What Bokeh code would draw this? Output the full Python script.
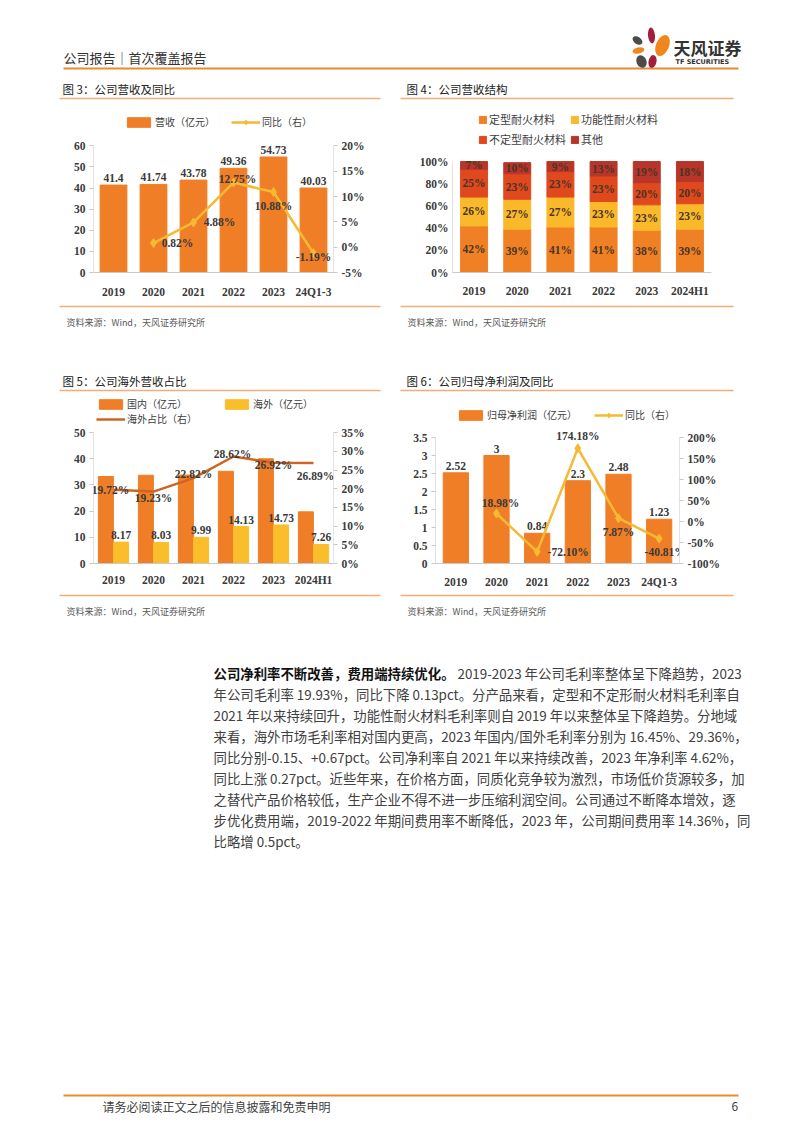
from bokeh.plotting import figure
from bokeh.layouts import column, row
from bokeh.models import (ColumnDataSource, Range1d, FactorRange, LinearAxis, FixedTicker,
                          NumeralTickFormatter, Legend, LegendItem, CustomJSTickFormatter)
from bokeh.core.properties import value
from bokeh.transform import dodge
from bokeh.embed import file_html
from bokeh.resources import INLINE

# ---------------- data ----------------
rev_years = ["2019", "2020", "2021", "2022", "2023", "24Q1-3"]
revenue = [41.4, 41.74, 43.78, 49.36, 54.73, 40.03]
rev_yoy_years = ["2020", "2021", "2022", "2023", "24Q1-3"]
rev_yoy = [0.82, 4.88, 12.75, 10.88, -1.19]

mix_years = ["2019", "2020", "2021", "2022", "2023", "2024H1"]
mix_names = ["定型耐火材料", "功能性耐火材料", "不定型耐火材料", "其他"]
mix_shaped = [42, 39, 41, 41, 38, 39]
mix_functional = [26, 27, 27, 23, 23, 23]
mix_unshaped = [25, 23, 23, 23, 20, 20]
mix_other = [7, 10, 9, 13, 19, 18]

geo_years = ["2019", "2020", "2021", "2022", "2023", "2024H1"]
domestic = [33.23, 33.71, 33.79, 35.23, 40.00, 19.74]
overseas = [8.17, 8.03, 9.99, 14.13, 14.73, 7.26]
overseas_share = [19.72, 19.23, 22.82, 28.62, 26.92, 26.89]

np_years = ["2019", "2020", "2021", "2022", "2023", "24Q1-3"]
net_profit = [2.52, 3, 0.84, 2.3, 2.48, 1.23]
np_yoy_years = ["2020", "2021", "2022", "2023", "24Q1-3"]
np_yoy = [18.98, -72.10, 174.18, 7.87, -40.81]

body_lead_bold = "公司净利率不断改善，费用端持续优化。"
body_lead_rest = "2019-2023 年公司毛利率整体呈下降趋势，2023"
body_lines = [
    "年公司毛利率 19.93%，同比下降 0.13pct。分产品来看，定型和不定形耐火材料毛利率自",
    "2021 年以来持续回升，功能性耐火材料毛利率则自 2019 年以来整体呈下降趋势。分地域",
    "来看，海外市场毛利率相对国内更高，2023 年国内/国外毛利率分别为 16.45%、29.36%，",
    "同比分别-0.15、+0.67pct。公司净利率自 2021 年以来持续改善，2023 年净利率 4.62%，",
    "同比上涨 0.27pct。近些年来，在价格方面，同质化竞争较为激烈，市场低价货源较多，加",
    "之替代产品价格较低，生产企业不得不进一步压缩利润空间。公司通过不断降本增效，逐",
    "步优化费用端，2019-2022 年期间费用率不断降低，2023 年，公司期间费用率 14.36%，同",
    "比略增 0.5pct。",
]

# ---------------- styles ----------------
SERIF = "Liberation Serif"
CJK = "Noto Sans CJK SC"
ORANGE = "#EF7E26"
YELLOW = "#F6B933"
GOLD = "#FBBE2B"
BROWN = "#CF6420"
MIX_COLORS = ["#F08024", "#F9B92A", "#E0481E", "#B8352A"]
LBL = "#3A3A3A"
AXC = "#C8C8C8"
TITLE_LINE = "#F2AE78"
PAGE_W = 802


def style_axes(p, xstand):
    for ax in p.yaxis:
        ax.axis_line_color = None
        ax.major_tick_line_color = AXC
        ax.major_tick_out = 4
        ax.major_tick_in = 0
        ax.minor_tick_line_color = None
        ax.major_label_text_font = SERIF
        ax.major_label_text_font_style = "bold"
        ax.major_label_text_font_size = "11.5px"
        ax.major_label_text_color = LBL
        ax.major_label_standoff = 4
    ax = p.xaxis[0]
    ax.axis_line_color = AXC
    ax.major_tick_line_color = None
    ax.minor_tick_line_color = None
    ax.major_label_text_font = SERIF
    ax.major_label_text_font_style = "bold"
    ax.major_label_text_font_size = "11.5px"
    ax.major_label_text_color = LBL
    ax.major_label_standoff = xstand


def chart(w, h, factors, bl, br, bt, bb, y_lo, y_hi, px_lo, px_hi, right=None):
    """Frame spans rows bt..h-bb; value y_lo sits at pixel px_lo (from frame top), y_hi at px_hi."""
    fh = h - bt - bb
    span = (y_hi - y_lo) * fh / (px_lo - px_hi)
    p = figure(width=w, height=h, x_range=FactorRange(*factors), y_range=Range1d(y_lo, y_lo + span),
               output_backend="svg", toolbar_location=None, title=None,
               min_border_left=bl, min_border_right=br, min_border_top=bt, min_border_bottom=bb)
    p.outline_line_color = None
    p.xgrid.grid_line_color = None
    p.ygrid.grid_line_color = None
    n = len(factors)
    # value axis lines, only over the value span (legend lives above them)
    p.segment(x0=[0], y0=[y_lo], x1=[0], y1=[y_hi], line_color=AXC, line_width=1)
    if right is not None:
        r_lo, r_hi = right
        p.extra_y_ranges = {"r": Range1d(r_lo, r_lo + (r_hi - r_lo) * fh / (px_lo - px_hi))}
        p.segment(x0=[n], y0=[y_lo], x1=[n], y1=[y_hi], line_color=AXC, line_width=1)
    return p


def legend(items, loc, gw, gh, spacing, size="10px", ncols=None, lw=10):
    kw = {}
    if ncols:
        kw["ncols"] = ncols
    return Legend(items=items, location=loc, orientation="horizontal",
                  glyph_width=gw, glyph_height=gh, label_height=gh, label_width=lw,
                  label_standoff=2, spacing=spacing, padding=0, margin=0,
                  border_line_color=None, background_fill_alpha=0,
                  label_text_font=CJK, label_text_font_size=size, label_text_color="#404040", **kw)


def lab(p, src, **kw):
    p.text(x="x", y="y", text="t", source=src, text_font=value(SERIF), text_font_style="bold",
           text_font_size="11.5px", text_color=LBL, **kw)


# ---------------- chart 3 (frame y 110..275 on page) ----------------
p3 = chart(395, 196, rev_years, 93, 62, 6, 25, 0, 60, 165, 36, right=(-0.05, 0.20))
p3.yaxis[0].ticker = FixedTicker(ticks=[0, 10, 20, 30, 40, 50, 60])
p3.add_layout(LinearAxis(y_range_name="r", ticker=FixedTicker(ticks=[-0.05, 0, 0.05, 0.10, 0.15, 0.20]),
                         formatter=NumeralTickFormatter(format="0%")), "right")
style_axes(p3, 7)
s3 = ColumnDataSource(dict(x=rev_years, y=revenue, t=[f"{v:g}" for v in revenue]))
b3 = p3.vbar(x="x", top="y", width=0.67, color=ORANGE, source=s3)
lab(p3, s3, text_align="center", text_baseline="bottom", y_offset=-3)
s3b = ColumnDataSource(dict(x=rev_yoy_years, y=[v / 100 for v in rev_yoy], t=[f"{v:.2f}%" for v in rev_yoy],
                            dx=[24, 26, 4, 0, 0], dy=[0, 0, -4, 14, 4]))
l3 = p3.line(x="x", y="y", y_range_name="r", line_color=YELLOW, line_width=2.5, source=s3b)
m3 = p3.scatter(x="x", y="y", y_range_name="r", marker="diamond", size=9, color=YELLOW, source=s3b)
lab(p3, s3b, y_range_name="r", text_align="center", text_baseline="middle", x_offset="dx", y_offset="dy")
p3.add_layout(legend([LegendItem(label="营收（亿元）", renderers=[b3]),
                      LegendItem(label="同比（右）", renderers=[l3, m3])], (31, 143), 29, 12, 16))

# ---------------- chart 4 (frame y 110..275) ----------------
p4 = chart(PAGE_W - 395, 196, mix_years, 57, 91, 6, 25, 0, 1, 165, 52)
p4.yaxis[0].ticker = FixedTicker(ticks=[0, 0.2, 0.4, 0.6, 0.8, 1.0])
p4.yaxis[0].formatter = NumeralTickFormatter(format="0%")
style_axes(p4, 6)
p4.yaxis[0].major_tick_out = 0
keys = ["shaped", "functional", "unshaped", "other"]
series = [mix_shaped, mix_functional, mix_unshaped, mix_other]
d4 = dict(x=mix_years)
for k, s in zip(keys, series):
    d4[k] = [v / 100 for v in s]
s4 = ColumnDataSource(d4)
r4 = p4.vbar_stack(keys, x="x", width=0.625, color=MIX_COLORS, source=s4)
lx, ly, lt = [], [], []
for i, yr in enumerate(mix_years):
    cum = 0.0
    for s in series:
        lx.append(yr)
        ly.append((cum + s[i] / 2) / 100)
        lt.append(f"{s[i]}%")
        cum += s[i]
s4b = ColumnDataSource(dict(x=lx, y=ly, t=lt))
p4.text(x="x", y="y", text="t", source=s4b, text_font=value(SERIF), text_font_style="bold",
        text_font_size="11.5px", text_color="#4A3426", text_align="center", text_baseline="middle")
p4.add_layout(legend([LegendItem(label=n, renderers=[r]) for n, r in zip(mix_names, r4)],
                     (26, 125), 9, 9, 4, "11px", ncols=2))

# ---------------- chart 5 (frame y 396..567) ----------------
p5 = chart(395, 194, geo_years, 93, 62, 0, 23, 0, 50, 171, 37, right=(0, 0.35))
p5.yaxis[0].ticker = FixedTicker(ticks=[0, 10, 20, 30, 40, 50])
p5.add_layout(LinearAxis(y_range_name="r", ticker=FixedTicker(ticks=[0, .05, .10, .15, .20, .25, .30, .35]),
                         formatter=NumeralTickFormatter(format="0%")), "right")
style_axes(p5, 4)
s5 = ColumnDataSource(dict(x=geo_years, dom=domestic, ovs=overseas, y=overseas, t=[f"{v:.2f}" for v in overseas]))
b5a = p5.vbar(x=dodge("x", -0.19, range=p5.x_range), top="dom", width=0.375, color=ORANGE, source=s5)
b5b = p5.vbar(x=dodge("x", 0.19, range=p5.x_range), top="ovs", width=0.375, color=GOLD, source=s5)
p5.text(x=dodge("x", 0.19, range=p5.x_range), y="y", text="t", source=s5, text_font=value(SERIF),
        text_font_style="bold", text_font_size="11.5px", text_color=LBL, text_align="center",
        text_baseline="bottom", y_offset=-3)
s5b = ColumnDataSource(dict(x=geo_years, y=[v / 100 for v in overseas_share], t=[f"{v:.2f}%" for v in overseas_share],
                            dx=[-3, 0, 0, -1, 0, 2], dy=[0, 6, -4, -2, 2, 13]))
l5 = p5.line(x="x", y="y", y_range_name="r", line_color=BROWN, line_width=2.5, source=s5b)
lab(p5, s5b, y_range_name="r", text_align="center", text_baseline="middle", x_offset="dx", y_offset="dy")
p5.add_layout(legend([LegendItem(label="国内（亿元）", renderers=[b5a]),
                      LegendItem(label="海外（亿元）", renderers=[b5b]),
                      LegendItem(label="海外占比（右）", renderers=[l5])],
                     (3, 137), 29, 12, 0, ncols=2, lw=95))

# ---------------- chart 6 (frame y 396..567) ----------------
p6 = chart(PAGE_W - 395, 194, np_years, 40, 123, 0, 23, 0, 3.5, 171, 42, right=(-1.0, 2.0))
p6.yaxis[0].ticker = FixedTicker(ticks=[0, 0.5, 1, 1.5, 2, 2.5, 3, 3.5])
p6.yaxis[0].formatter = CustomJSTickFormatter(code="return String(tick)")
p6.add_layout(LinearAxis(y_range_name="r", ticker=FixedTicker(ticks=[-1, -0.5, 0, 0.5, 1, 1.5, 2]),
                         formatter=NumeralTickFormatter(format="0%")), "right")
style_axes(p6, 6)
s6 = ColumnDataSource(dict(x=np_years, y=net_profit, t=[f"{v:g}" for v in net_profit]))
b6 = p6.vbar(x="x", top="y", width=0.62, color=ORANGE, source=s6)
lab(p6, s6, text_align="center", text_baseline="bottom", y_offset=-3)
s6b = ColumnDataSource(dict(x=np_yoy_years, y=[v / 100 for v in np_yoy], t=[f"{v:.2f}%" for v in np_yoy],
                            dx=[4, 31, 0, 0, 6], dy=[-11, 0, -12, 14, 13]))
l6 = p6.line(x="x", y="y", y_range_name="r", line_color=YELLOW, line_width=2.5, source=s6b)
m6 = p6.scatter(x="x", y="y", y_range_name="r", marker="diamond", size=9, color=YELLOW, source=s6b)
lab(p6, s6b, y_range_name="r", text_align="center", text_baseline="middle", x_offset="dx", y_offset="dy")
p6.add_layout(legend([LegendItem(label="归母净利润（亿元）", renderers=[b6]),
                      LegendItem(label="同比（右）", renderers=[l6, m6])], (21, 141), 29, 12, 17))


# ---------------- page decorations ----------------
def decor(y0, y1):
    f = figure(width=PAGE_W, height=y1 - y0, x_range=Range1d(0, PAGE_W), y_range=Range1d(y1, y0),
               output_backend="svg", toolbar_location=None, min_border=0, title=None,
               x_axis_location=None, y_axis_location=None)
    f.outline_line_color = None
    f.xgrid.visible = False
    f.ygrid.visible = False
    return f


def txt(f, x, y, s, size, color, bold=False, align="left", font=CJK):
    f.text(x=[x], y=[y], text=[s], text_font=value(font), text_font_size=size, text_color=color,
           text_font_style="bold" if bold else "normal", text_align=align, text_baseline="middle")


def hline(f, x0, x1, y, color, w):
    f.segment(x0=[x0], y0=[y], x1=[x1], y1=[y], line_color=color, line_width=w)


src_text = "资料来源：Wind，天风证券研究所"

dA = decor(0, 104)
txt(dA, 63, 57, "公司报告｜首次覆盖报告", "13px", "#333333")
hline(dA, 63, 738, 68, "#EB8A2F", 2)
dA.ellipse(x=[637, 651, 662, 638, 641, 652], y=[40, 35, 45, 50, 61, 61],
           width=[11, 7, 13, 12, 10, 8], height=[7, 16, 22, 6, 13, 13],
           angle=[-0.6, 0.1, -0.4, 0.2, 0.4, -0.2],
           fill_color=["#4B4B4B", "#A31E3C", "#F0861E", "#F0861E", "#4B4B4B", "#A31E3C"], line_color=None)
txt(dA, 673, 47, "天风证券", "17px", "#333333", bold=True)
txt(dA, 675, 61.5, "TF SECURITIES", "6.5px", "#333333", bold=True, font="DejaVu Sans")
txt(dA, 62, 88, "图 3：公司营收及同比", "11.5px", "#222222")
txt(dA, 406, 88, "图 4：公司营收结构", "11.5px", "#222222")
hline(dA, 59, 380, 98, TITLE_LINE, 1.5)
hline(dA, 400, 733, 98, TITLE_LINE, 1.5)

dC = decor(300, 396)
hline(dC, 59, 380, 306, TITLE_LINE, 1.5)
hline(dC, 400, 733, 306, TITLE_LINE, 1.5)
txt(dC, 66, 322, src_text, "9px", "#595959")
txt(dC, 407, 322, src_text, "9px", "#595959")
txt(dC, 62, 380, "图 5：公司海外营收占比", "11.5px", "#222222")
txt(dC, 406, 380, "图 6：公司归母净利润及同比", "11.5px", "#222222")
hline(dC, 59, 380, 390, TITLE_LINE, 1.5)
hline(dC, 400, 733, 390, TITLE_LINE, 1.5)

dE = decor(590, 1133)
hline(dE, 59, 380, 595, TITLE_LINE, 1.5)
hline(dE, 400, 733, 595, TITLE_LINE, 1.5)
txt(dE, 66, 611, src_text, "9px", "#595959")
txt(dE, 407, 611, src_text, "9px", "#595959")
txt(dE, 213, 672, body_lead_bold, "13.4px", "#111111", bold=True)
txt(dE, 457, 672, body_lead_rest, "13.4px", "#404040")
for i, line in enumerate(body_lines):
    txt(dE, 213, 693 + 21 * i, line, "13.4px", "#404040")
hline(dE, 63, 738, 1095, "#EB8A2F", 2)
txt(dE, 102, 1106, "请务必阅读正文之后的信息披露和免责申明", "12px", "#404040")
txt(dE, 731, 1106, "6", "12px", "#404040")

page = column(dA, row(p3, p4), dC, row(p5, p6), dE)
open("out.html", "w").write(file_html(page, INLINE))
